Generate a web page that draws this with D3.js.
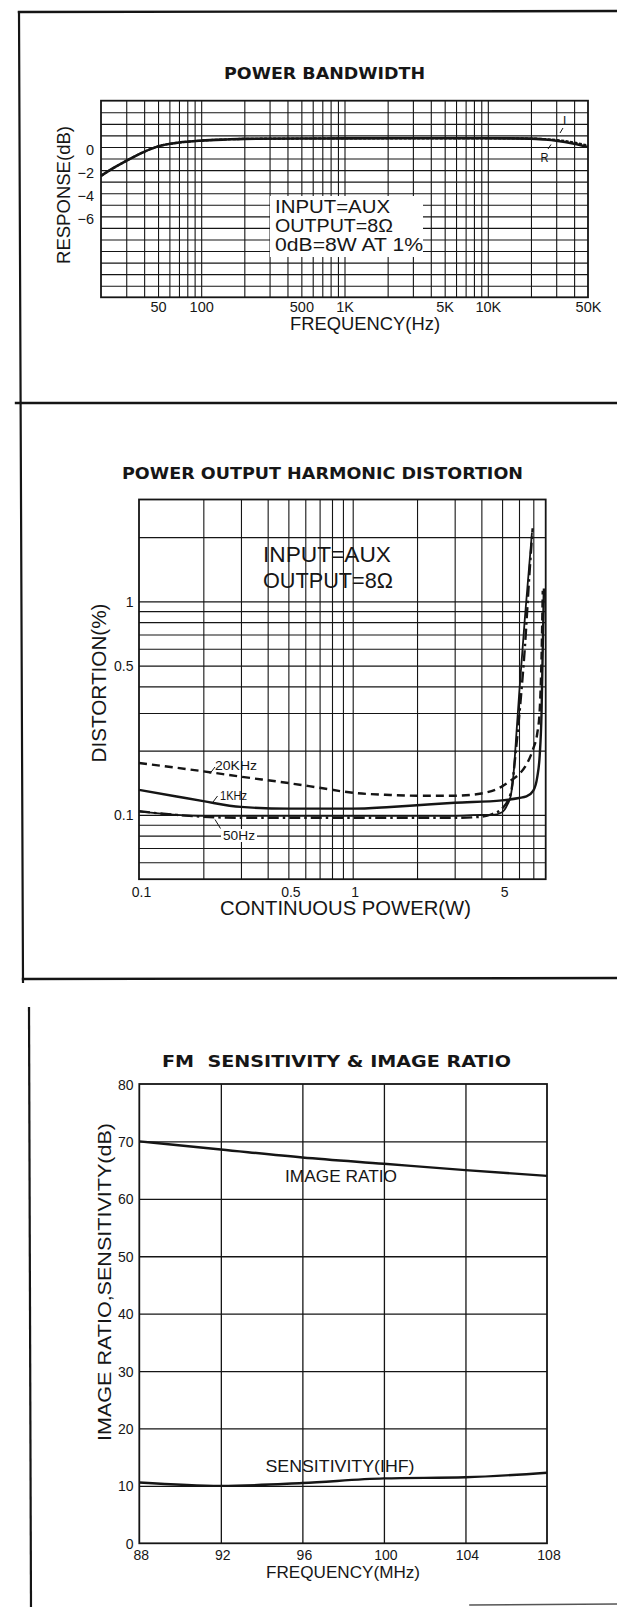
<!DOCTYPE html>
<html><head><meta charset="utf-8">
<script src="https://cdn.jsdelivr.net/npm/d3@7"></script>
<style>
html,body{margin:0;padding:0;background:#fff;}
svg{display:block;}
text{font-family:"Liberation Sans",Arial,Helvetica,sans-serif;fill:#161616;}
</style></head><body>
<svg id="c" width="617" height="1607"></svg>
<script>
// ---------- Panel 1: POWER BANDWIDTH ----------
const bwFreq  = [20,25,30,40,50,70,100,150,200,500,1000,5000,10000,20000,25000,30000,40000,50000];
const bwLeft  = [-2.5,-1.75,-1.2,-0.42,0.05,0.38,0.55,0.65,0.7,0.73,0.74,0.75,0.75,0.73,0.68,0.6,0.38,0.12];
const bwRight = [-2.5,-1.75,-1.2,-0.42,0.05,0.38,0.55,0.65,0.7,0.73,0.74,0.75,0.75,0.72,0.64,0.54,0.28,0.0];
const bwXTicks  = [50,100,500,1000,5000,10000,50000];
const bwXLabels = ["50","100","500","1K","5K","10K","50K"];
const bwYTicks  = [0,-2,-4,-6];
const bwYLabels = ["0","\u22122","\u22124","\u22126"];
const bwNotes   = ["INPUT=AUX","OUTPUT=8\u03A9","0dB=8W AT 1%"];

// ---------- Panel 2: POWER OUTPUT HARMONIC DISTORTION ----------
const thd20kW = [0.1,0.2,0.3,0.5,0.7,1,1.5,2,3,4,5,5.5,6,6.5,7,7.3,7.5,7.65,7.75];
const thd20kV = [0.175,0.16,0.151,0.141,0.134,0.127,0.124,0.123,0.123,0.126,0.136,0.145,0.155,0.172,0.205,0.24,0.31,0.55,1.12];
const thd1kW  = [0.1,0.15,0.2,0.3,0.5,1,1.5,2,3,5,6,6.5,7,7.3,7.5,7.65,7.75,7.85];
const thd1kV  = [0.131,0.122,0.116,0.109,0.107,0.107,0.109,0.111,0.114,0.117,0.12,0.122,0.13,0.15,0.19,0.3,0.6,1.15];
const thd50W  = [0.1,0.15,0.2,0.3,0.5,1,2,3,4,4.5,5,5.5,5.8,6.1,6.4,6.7,6.95];
const thd50V  = [0.104,0.1,0.098,0.097,0.097,0.097,0.097,0.097,0.098,0.101,0.107,0.127,0.2,0.34,0.62,1.3,2.2];
const thd50bW = [0.1,0.15,0.2,0.3,0.5,1,2,3,4,4.5,5,5.3,5.5,5.7,5.8,6.0,6.4,6.9];
const thd50bV = [0.104,0.1,0.099,0.099,0.099,0.099,0.099,0.099,0.1,0.1,0.103,0.112,0.124,0.17,0.22,0.36,0.85,2.1];
const thdXTicks  = [0.1,0.5,1,5];
const thdXLabels = ["0.1","0.5","1","5"];
const thdYTicks  = [0.1,0.5,1];
const thdYLabels = ["0.1","0.5","1"];
const thdNotes   = ["INPUT=AUX","OUTPUT=8\u03A9"];
const thdSeriesNames = ["20KHz","1KHz","50Hz"];

// ---------- Panel 3: FM SENSITIVITY & IMAGE RATIO ----------
const fmFreq  = [88,92,96,100,104,108];
const fmImage = [70.0,68.6,67.2,66.1,65.0,64.0];
const fmSens  = [10.6,10.0,10.5,11.3,11.5,12.3];
const fmXTicks = [88,92,96,100,104,108];
const fmYTicks = [0,10,20,30,40,50,60,70,80];

const INK = "#151515";
const svg = d3.select("#c");
svg.append("rect").attr("width",617).attr("height",1607).attr("fill","#fff");

// page frame lines
const frame = svg.append("g").attr("stroke",INK).attr("fill","none").attr("stroke-linecap","square");
frame.append("line").attr("x1",19).attr("y1",12).attr("x2",617).attr("y2",11).attr("stroke-width",2.4);
frame.append("line").attr("x1",19).attr("y1",12).attr("x2",23).attr("y2",982).attr("stroke-width",2.2);
frame.append("line").attr("x1",16).attr("y1",403).attr("x2",617).attr("y2",403).attr("stroke-width",2.4);
frame.append("line").attr("x1",23).attr("y1",979).attr("x2",617).attr("y2",978).attr("stroke-width",2.4);
frame.append("line").attr("x1",29).attr("y1",1008).attr("x2",31).attr("y2",1607).attr("stroke-width",2.2);
frame.append("line").attr("x1",470).attr("y1",1605).attr("x2",617).attr("y2",1604).attr("stroke-width",1.6).attr("stroke","#555");

function drawGrid(g, xs, ys, xVals, yVals, box, sw){
  g.append("g").attr("transform",`translate(0,${box.b})`)
    .call(d3.axisBottom(xs).tickValues(xVals).tickSize(-(box.b-box.t)).tickFormat(""))
    .call(a=>a.select(".domain").remove())
    .selectAll("line").attr("stroke",INK).attr("stroke-width",sw);
  g.append("g").attr("transform",`translate(${box.l},0)`)
    .call(d3.axisLeft(ys).tickValues(yVals).tickSize(-(box.r-box.l)).tickFormat(""))
    .call(a=>a.select(".domain").remove())
    .selectAll("line").attr("stroke",INK).attr("stroke-width",sw);
}
function frameRect(g, box, sw){
  g.append("rect").attr("x",box.l).attr("y",box.t).attr("width",box.r-box.l).attr("height",box.b-box.t)
    .attr("fill","none").attr("stroke",INK).attr("stroke-width",sw);
}
function xLabels(g, xs, vals, labels, y0, dy, size, dx){
  const a = g.append("g").attr("transform",`translate(${dx||0},${y0})`)
    .call(d3.axisBottom(xs).tickValues(vals).tickSize(0).tickFormat((d,i)=>labels[i]));
  a.select(".domain").remove();
  a.attr("font-family",null).attr("font-size",null);
  a.selectAll("text").attr("dy",null).attr("y",dy).style("font-size",size+"px").attr("fill",INK);
}
function yLabels(g, ys, vals, labels, x0, dy, size){
  const a = g.append("g").attr("transform",`translate(${x0},0)`)
    .call(d3.axisLeft(ys).tickValues(vals).tickSize(0).tickPadding(0).tickFormat((d,i)=>labels[i]));
  a.select(".domain").remove();
  a.attr("font-family",null).attr("font-size",null);
  a.selectAll("text").attr("dy",null).attr("y",dy).style("font-size",size+"px").attr("fill",INK);
}
function title(txt, x, y, len, size){
  svg.append("text").attr("x",x).attr("y",y).attr("text-anchor","start")
    .style("font-family","'DejaVu Sans','Liberation Sans',sans-serif").style("font-weight","bold")
    .style("font-size",size+"px").style("white-space","pre")
    .attr("textLength",len).attr("lengthAdjust","spacingAndGlyphs").text(txt);
}
function vTitle(txt, cx, cy, len, size){
  svg.append("text").attr("transform",`translate(${cx},${cy}) rotate(-90)`).attr("text-anchor","middle")
    .style("font-size",size+"px").attr("textLength",len).attr("lengthAdjust","spacingAndGlyphs").text(txt);
}
function hText(txt, x, y, len, size, anchor){
  return svg.append("text").attr("x",x).attr("y",y).attr("text-anchor",anchor||"start")
    .style("font-size",size+"px").attr("textLength",len).attr("lengthAdjust","spacingAndGlyphs").text(txt);
}

// ================= PANEL 1 =================
{
  const box = {l:101,r:588,t:100.7,b:297.3};
  const x = d3.scaleLog().domain([20,50000]).range([box.l,box.r]);
  const y = d3.scaleLinear().domain([-13,4]).range([box.b,box.t]);
  const g = svg.append("g");
  const xGrid = [];
  [10,100,1000,10000].forEach(d=>{for(let k=1;k<10;k++){const v=d*k; if(v>20&&v<50000) xGrid.push(v);}});
  const yGrid = d3.range(-12,4,1);
  drawGrid(g, x, y, xGrid, yGrid, box, 1.1);
  g.append("rect").attr("x",270).attr("y",196).attr("width",153).attr("height",61).attr("fill","#fff");
  frameRect(g, box, 1.8);
  const line = d3.line().x((d,i)=>x(bwFreq[i])).y(d=>y(d)).curve(d3.curveMonotoneX);
  g.append("path").attr("d",line(bwRight)).attr("fill","none").attr("stroke",INK).attr("stroke-width",2.6);
  g.append("path").attr("d",line(bwLeft)).attr("fill","none").attr("stroke",INK).attr("stroke-width",2.2).attr("stroke-dasharray","3,1.5");
  xLabels(g, x, bwXTicks, bwXLabels, box.b, 15, 14.5, 0);
  yLabels(g, y, bwYTicks, bwYLabels, 94, 7.5, 14.5);
  hText(bwNotes[0], 275, 213, 115, 17.5);
  hText(bwNotes[1], 275, 232, 118, 17.5);
  hText(bwNotes[2], 275, 251, 148, 17.5);
  hText("L", 563, 125, 7, 12.5);
  g.append("line").attr("x1",560).attr("y1",133).attr("x2",563).attr("y2",128).attr("stroke",INK).attr("stroke-width",1);
  hText("R", 540.5, 161.5, 8, 12.5);
  g.append("line").attr("x1",548).attr("y1",149).attr("x2",551).attr("y2",144.5).attr("stroke",INK).attr("stroke-width",1);
  title("POWER BANDWIDTH", 224, 79, 201, 16);
  vTitle("RESPONSE(dB)", 70, 195, 138, 18);
  hText("FREQUENCY(Hz)", 290, 330, 150, 18);
}

// ================= PANEL 2 =================
{
  const box = {l:139,r:545.7,t:499.5,b:879.2};
  const x = d3.scaleLog().domain([0.1,8]).range([box.l,box.r]);
  const y = d3.scaleLog().domain([0.05,3]).range([box.b,box.t]);
  const g = svg.append("g");
  const xGrid = [0.2,0.3,0.4,0.5,0.6,0.7,0.8,0.9,1,2,3,4,5,6,7];
  const yGrid = [0.06,0.07,0.08,0.09,0.1,0.2,0.3,0.4,0.5,0.6,0.7,0.8,0.9,1,2];
  drawGrid(g, x, y, xGrid, yGrid, box, 1.1);
  frameRect(g, box, 1.8);
  g.append("rect").attr("x",221).attr("y",829).attr("width",36).attr("height",13).attr("fill","#fff");
  const mk = (W)=>d3.line().x((d,i)=>x(W[i])).y(d=>y(d)).curve(d3.curveMonotoneX);
  g.append("path").attr("d",mk(thd50bW)(thd50bV)).attr("fill","none").attr("stroke",INK).attr("stroke-width",1.8);
  g.append("path").attr("d",mk(thd50W)(thd50V)).attr("fill","none").attr("stroke",INK).attr("stroke-width",2.4).attr("stroke-dasharray","11,4,2.5,4");
  g.append("path").attr("d",mk(thd1kW)(thd1kV)).attr("fill","none").attr("stroke",INK).attr("stroke-width",2.4);
  g.append("path").attr("d",mk(thd20kW)(thd20kV)).attr("fill","none").attr("stroke",INK).attr("stroke-width",2.4).attr("stroke-dasharray","8,5");
  xLabels(g, x, thdXTicks, thdXLabels, box.b, 18, 14, 2);
  yLabels(g, y, thdYTicks, thdYLabels, 133.5, 5, 14);
  hText(thdSeriesNames[0], 215, 770, 42, 13);
  g.append("line").attr("x1",210).attr("y1",773.5).attr("x2",215).attr("y2",767).attr("stroke",INK).attr("stroke-width",1);
  hText(thdSeriesNames[1], 220, 800, 27, 13);
  g.append("line").attr("x1",213).attr("y1",802).attr("x2",217.5).attr("y2",796).attr("stroke",INK).attr("stroke-width",1);
  hText(thdSeriesNames[2], 223, 840, 32, 13);
  g.append("line").attr("x1",215).attr("y1",819.5).attr("x2",220.5).attr("y2",828.5).attr("stroke",INK).attr("stroke-width",1);
  hText(thdNotes[0], 263, 562, 128, 21.5);
  hText(thdNotes[1], 263, 588, 130, 21.5);
  title("POWER OUTPUT HARMONIC DISTORTION", 122, 479, 401, 16);
  vTitle("DISTORTION(%)", 106, 683, 159, 20);
  hText("CONTINUOUS POWER(W)", 220, 915, 251, 20);
}

// ================= PANEL 3 =================
{
  const box = {l:139.3,r:547,t:1084,b:1543.3};
  const x = d3.scaleLinear().domain([88,108]).range([box.l,box.r]);
  const y = d3.scaleLinear().domain([0,80]).range([box.b,box.t]);
  const g = svg.append("g");
  drawGrid(g, x, y, fmXTicks.slice(1,-1), fmYTicks.slice(1,-1), box, 1.3);
  frameRect(g, box, 1.8);
  const line = d3.line().x((d,i)=>x(fmFreq[i])).y(d=>y(d)).curve(d3.curveMonotoneX);
  g.append("path").attr("d",line(fmImage)).attr("fill","none").attr("stroke",INK).attr("stroke-width",2.4);
  g.append("path").attr("d",line(fmSens)).attr("fill","none").attr("stroke",INK).attr("stroke-width",2.4);
  xLabels(g, x, fmXTicks, fmXTicks.map(String), box.b, 17, 14, 1.5);
  yLabels(g, y, fmYTicks, fmYTicks.map(String), 133.5, 5, 14);
  hText("IMAGE RATIO", 285, 1182, 112, 17);
  hText("SENSITIVITY(IHF)", 265.5, 1472, 149, 17);
  title("FM  SENSITIVITY & IMAGE RATIO", 162, 1067, 349, 16);
  vTitle("IMAGE RATIO,SENSITIVITY(dB)", 111, 1282, 318, 19);
  hText("FREQUENCY(MHz)", 266, 1578, 154, 17);
}
</script>
</body></html>
